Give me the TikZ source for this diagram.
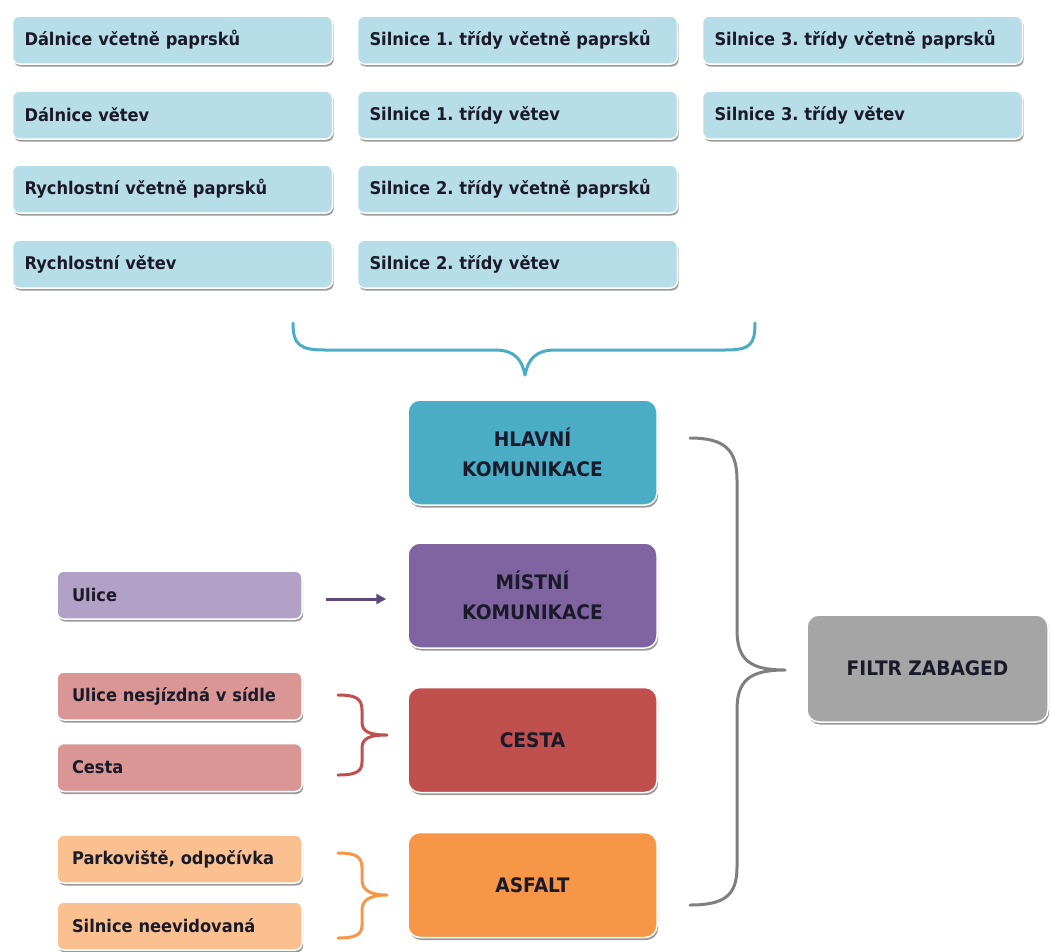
\documentclass[tikz,border=0pt]{standalone}
\usepackage{fontspec}
\setmainfont{DejaVu Sans}[FakeStretch=0.93]
\frenchspacing
\usetikzlibrary{shadows,arrows.meta}
\definecolor{lightblue}{HTML}{B7DDE8}
\definecolor{teal}{HTML}{4BACC6}
\definecolor{violet}{HTML}{8064A2}
\definecolor{lightviolet}{HTML}{B2A1C7}
\definecolor{darkviolet}{HTML}{5F497A}
\definecolor{brick}{HTML}{C0504D}
\definecolor{lightbrick}{HTML}{D99694}
\definecolor{orange}{HTML}{F79646}
\definecolor{lightorange}{HTML}{FAC090}
\definecolor{midgray}{HTML}{A5A5A5}
\definecolor{bracegray}{HTML}{7F7F7F}
\definecolor{ink}{HTML}{1A1A2A}
\tikzset{
  x=1pt, y=-1pt,
  tile/.style={rounded corners=7pt, draw=white, line width=1.5pt,
    drop shadow={shadow xshift=1.2pt, shadow yshift=-2.5pt, fill=black, opacity=0.4},
    text=ink, font=\fontsize{17.5}{20}\selectfont\bfseries},
  smallbox/.style={tile, minimum height=48pt, inner xsep=12pt, inner ysep=0pt,
    text width=296pt, align=left, fill=lightblue},
  sidebox/.style={tile, minimum height=48pt, inner xsep=15pt, inner ysep=0pt,
    text width=215pt, align=left},
  bigbox/.style={tile, rounded corners=12pt, minimum width=249pt, minimum height=105pt,
    inner sep=0pt, align=center, font=\fontsize{20}{30}\selectfont\bfseries},
  brace/.style={line width=3pt, line cap=round, line join=round},
  arr/.style={line width=3pt, draw=darkviolet, -{Triangle[length=10pt,width=10pt]}}
}
\begin{document}
\begin{tikzpicture}
\useasboundingbox (0,0) rectangle (1050,951);

% road classes taken from the main network
\node[smallbox] (d1) at (172.5,40)  {Dálnice včetně paprsků};
\node[smallbox] (d2) at (172.5,115) {Dálnice větev};
\node[smallbox] (d3) at (172.5,189) {Rychlostní včetně paprsků};
\node[smallbox] (d4) at (172.5,264) {Rychlostní větev};
\node[smallbox] (s1) at (517.5,40)  {Silnice 1. třídy včetně paprsků};
\node[smallbox] (s2) at (517.5,115) {Silnice 1. třídy větev};
\node[smallbox] (s3) at (517.5,189) {Silnice 2. třídy včetně paprsků};
\node[smallbox] (s4) at (517.5,264) {Silnice 2. třídy větev};
\node[smallbox] (t1) at (862.5,40)  {Silnice 3. třídy včetně paprsků};
\node[smallbox] (t2) at (862.5,115) {Silnice 3. třídy větev};

% brace gathering the main classes
\draw[brace, teal] (293,323) .. controls (293,345) and (300,350) .. (325,350)
  -- (495,350) .. controls (515,350) and (522,360) .. (525,375)
  .. controls (528,360) and (535,350) .. (555,350)
  -- (725,350) .. controls (750,350) and (755,345) .. (755,323);

% main categories
\node[bigbox, fill=teal]   (hlavni) at (532.5,452.5) {HLAVNÍ\\KOMUNIKACE};
\node[bigbox, fill=violet] (mistni) at (532.5,595.5) {MÍSTNÍ\\KOMUNIKACE};
\node[bigbox, fill=brick]  (cesta)  at (532.5,740)   {CESTA};
\node[bigbox, fill=orange] (asfalt) at (532.5,885)   {ASFALT};

% source classes on the left
\node[sidebox, fill=lightviolet] (ulice) at (179.5,595) {Ulice};
\node[sidebox, fill=lightbrick]  (nesj)  at (179.5,696) {Ulice nesjízdná v sídle};
\node[sidebox, fill=lightbrick]  (cst)   at (179.5,767.5) {Cesta};
\node[sidebox, fill=lightorange] (park)  at (179.5,859) {Parkoviště, odpočívka};
\node[sidebox, fill=lightorange] (neev)  at (179.5,926) {Silnice neevidovaná};

% filter
\node[bigbox, fill=midgray, minimum width=241pt, minimum height=107pt] (filtr) at (927.5,668.5) {FILTR ZABAGED};

% connectors
\draw[arr, shorten <=23pt, shorten >=21pt] ([yshift=-4pt]ulice.east) -- ([yshift=-4pt]mistni.west |- ulice.east);

\draw[brace, brick] (338,695) .. controls (355,695) and (362,698) .. (362,710)
  -- (362,722) .. controls (362,732) and (370,735) .. (387,735)
  .. controls (370,735) and (362,738) .. (362,748)
  -- (362,762) .. controls (362,772) and (355,775) .. (338,775);

\draw[brace, orange] (338,853) .. controls (355,853) and (362,856) .. (362,868)
  -- (362,880) .. controls (362,890) and (370,895) .. (387,895)
  .. controls (370,895) and (362,900) .. (362,910)
  -- (362,925) .. controls (362,935) and (355,938) .. (338,938);

\draw[brace, bracegray] (690,438) .. controls (725,438) and (737,450) .. (737,480)
  -- (737,630) .. controls (737,660) and (750,670) .. (785,670)
  .. controls (750,670) and (737,680) .. (737,710)
  -- (737,867) .. controls (737,895) and (725,905) .. (690,905);
\end{tikzpicture}
\end{document}
